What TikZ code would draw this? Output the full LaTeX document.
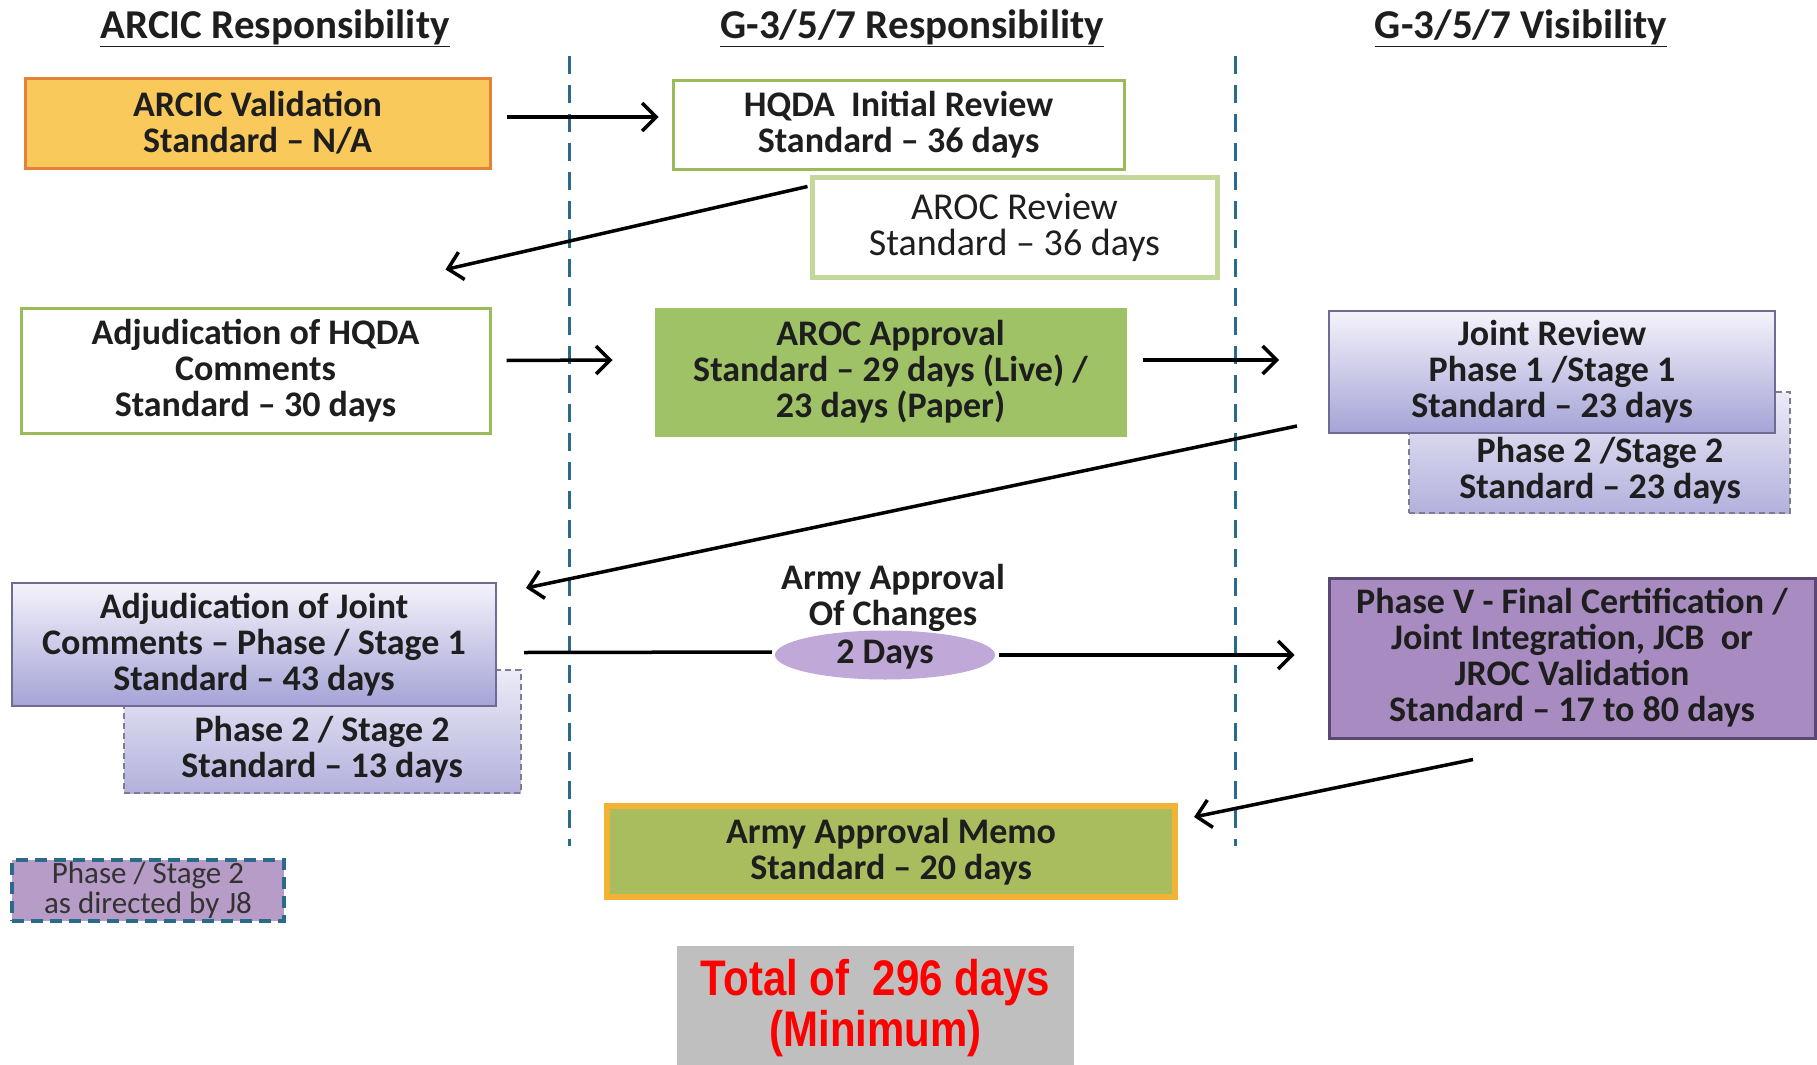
\documentclass[tikz,border=0pt]{standalone}
\usepackage{fontspec}
\setmainfont{Carlito}
\newfontfamily\narrowfont{Liberation Sans}[FakeStretch=0.84]
\usetikzlibrary{arrows.meta,calc,shapes.geometric}
\definecolor{txtc}{HTML}{1E1E1E}
\definecolor{arcicfill}{HTML}{F9C95B}
\definecolor{arcicdraw}{HTML}{E5823A}
\definecolor{grn}{HTML}{9BBB59}
\definecolor{lgrn}{HTML}{C3D89A}
\definecolor{aroc}{HTML}{9FC266}
\definecolor{jtop}{HTML}{F4F3FB}
\definecolor{jbot}{HTML}{A5A3D6}
\definecolor{jdraw}{HTML}{6E6C92}
\definecolor{j2top}{HTML}{ECEBF7}
\definecolor{j2bot}{HTML}{B3B1DC}
\definecolor{j2draw}{HTML}{7D7D8E}
\definecolor{pvfill}{HTML}{A88CC1}
\definecolor{pvdraw}{HTML}{5B4872}
\definecolor{memofill}{HTML}{A9BD5E}
\definecolor{memodraw}{HTML}{F2B233}
\definecolor{ellfill}{HTML}{C0A8D9}
\definecolor{jeight}{HTML}{B89CC8}
\definecolor{teal}{HTML}{2A6B8C}
\definecolor{totfill}{HTML}{BFBFBF}
\begin{document}
\begin{tikzpicture}[x=1pt,y=-1pt,
  txt/.style={font=\fontsize{36}{36}\selectfont\bfseries, text=txtc, align=center},
  hdr/.style={font=\fontsize{41}{41}\selectfont\bfseries, text=txtc},
  box/.style={txt, rectangle, line width=3pt, inner sep=0pt},
  jbox/.style={box, draw=jdraw, line width=2pt, top color=jtop, bottom color=jbot},
  j2box/.style={box, draw=j2draw, line width=2pt, dashed, dash pattern=on 6pt off 4pt, top color=j2top, bottom color=j2bot},
  divider/.style={draw=teal, line width=3pt, dash pattern=on 18pt off 11pt},
  arr/.style={line width=3.5pt, -{Straight Barb[length=14pt,width=28pt,line width=3.5pt]}},
  plain/.style={line width=3.5pt}
]
\useasboundingbox (0,0) rectangle (1817,1065);
\fill[white] (0,0) rectangle (1817,1065);

% column headers
\node[hdr] (h1) at (275,28) {\underline{ARCIC Responsibility}};
\node[hdr] (h2) at (912,28) {\underline{G-3/5/7 Responsibility}};
\node[hdr] (h3) at (1521,28) {\underline{G-3/5/7 Visibility}};

% dividers
\coordinate (d1t) at (569,56);
\coordinate (d1b) at (569,846);
\coordinate (d2t) at (1235,56);
\coordinate (d2b) at (1235,846);
\draw[divider] (d1t) -- (d1b);
\draw[divider] (d2t) -- (d2b);

% boxes
\node[box, draw=arcicdraw, fill=arcicfill, minimum width=465, minimum height=90] (arcic) at (257.5,123)
  {ARCIC Validation\\Standard -- N/A};
\node[box, draw=grn, fill=white, minimum width=451, minimum height=89] (hqda) at (898.5,124.5)
  {HQDA\ \ Initial Review\\Standard -- 36 days};
\node[box, draw=lgrn, fill=white, line width=5pt, minimum width=405, minimum height=100,
  font=\fontsize{38}{36}\selectfont] (arocrev) at (1014.5,227)
  {AROC Review\\Standard -- 36 days};
\node[box, draw=grn, fill=white, minimum width=469, minimum height=125] (adjhqda) at (255.5,370.5)
  {Adjudication of HQDA\\Comments\\Standard -- 30 days};
\node[box, draw=aroc, fill=aroc, minimum width=469, minimum height=126] (arocapp) at (890.5,372)
  {AROC Approval\\Standard -- 29 days (Live) /\\23 days (Paper)};

\node[j2box, minimum width=381, minimum height=121] (jr2) at (1599.5,452.5) {};
\node[txt] (jr2t) at (1600,471) {Phase 2 /Stage 2\\Standard -- 23 days};
\node[jbox, minimum width=446, minimum height=122] (jr) at (1552,372)
  {Joint Review\\Phase 1 /Stage 1\\Standard -- 23 days};

\node[j2box, minimum width=397, minimum height=123] (adjj2) at (322.5,731.5) {};
\node[txt] (adjj2t) at (322,750) {Phase 2 / Stage 2\\Standard -- 13 days};
\node[jbox, minimum width=484, minimum height=123] (adjj) at (254,644.5)
  {Adjudication of Joint\\Comments -- Phase / Stage 1\\Standard -- 43 days};

\node[box, draw=teal, fill=jeight, line width=3.5pt, dash pattern=on 12pt off 7pt,
  minimum width=272, minimum height=61, font=\fontsize{31}{30}\selectfont, text=black!80] (j8) at (148,890.5)
  {Phase / Stage 2\\as directed by J8};

\node[txt] (aac) at (893,598) {Army Approval\\Of Changes};
\node[txt, ellipse, fill=ellfill, minimum width=220, minimum height=49, inner sep=0pt] (ell) at (885,655) {2 Days};

\node[box, draw=pvdraw, fill=pvfill, minimum width=486, minimum height=160] (pv) at (1572,658)
  {Phase V - Final Certification /\\Joint Integration, JCB\ \ or\\JROC Validation\\Standard -- 17 to 80 days};

\node[box, draw=memodraw, fill=memofill, line width=6pt, minimum width=568, minimum height=91] (memo) at (891,851.5)
  {Army Approval Memo\\Standard -- 20 days};

\node[rectangle, fill=totfill, minimum width=397, minimum height=119, inner sep=0pt, align=center,
  text=red, font=\narrowfont\fontsize{50}{51}\selectfont\bfseries] (tot) at (875.5,1005.5) {};
\node[align=center, text=red, font=\narrowfont\fontsize{50}{51}\selectfont\bfseries] (tott) at (875.5,1008)
  {Total of\ \ 296 days\\(Minimum)};

% connectors
\draw[arr] ($(arcic.east)+(15,-6)$) -- ($(hqda.west)+(-13,-7.5)$);
\draw[arr] ($(arocrev.north west)+(-2,12)$) -- ($(adjhqda.north east)+(-46,-37)$);
\draw[arr] ($(adjhqda.east)+(15,-10)$) -- ($(arocapp.west)+(-42,-12)$);
\draw[arr] ($(arocapp.east)+(16,-12)$) -- ($(jr.west)+(-49,-12)$);
\draw[arr] ($(jr.south west)+(-31,-8)$) -- ($(adjj.north east)+(29,6)$);
\draw[plain] ($(adjj.east)+(27,8)$) -- ($(ell.west)+(-3,-3)$);
\draw[arr] ($(ell.east)+(4,0)$) -- ($(pv.west)+(-33,-3)$);
\draw[arr] ($(pv.south)+(-99,20)$) -- ($(memo.north east)+(16,14)$);
\end{tikzpicture}
\end{document}
